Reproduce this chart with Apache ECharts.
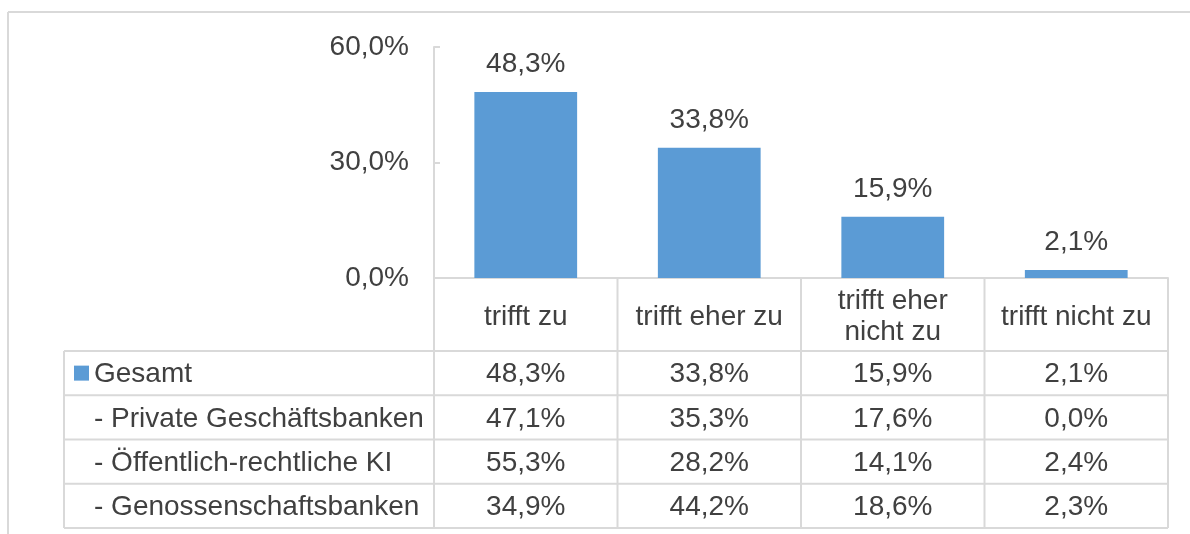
<!DOCTYPE html>
<html>
<head>
<meta charset="utf-8">
<script src="https://cdn.jsdelivr.net/npm/echarts@6/dist/echarts.min.js"></script>
<style>
  html, body { margin: 0; padding: 0; background: #fff; }
  #main-chart { width: 1190px; height: 534px; }
</style>
</head>
<body>
<div id="main-chart"></div>
<script>
// answer categories (x axis / table header)
const categories = ['trifft zu', 'trifft eher zu', 'trifft eher\nnicht zu', 'trifft nicht zu'];
// table rows
const rowNames = ['Gesamt', '- Private Geschäftsbanken', '- Öffentlich-rechtliche KI', '- Genossenschaftsbanken'];
const gesamt = [48.3, 33.8, 15.9, 2.1];
const privat = [47.1, 35.3, 17.6, 0.0];
const oeffentlich = [55.3, 28.2, 14.1, 2.4];
const genossen = [34.9, 44.2, 18.6, 2.3];
const yTicks = [0, 30, 60];

const tableRows = [gesamt, privat, oeffentlich, genossen];

const FONT = '"Liberation Sans", Arial, sans-serif';
const TEXT = '#404040';
const GRID = '#d9d9d9';
const BLUE = '#5b9bd5';
const FS = 28;

const fmt = v => v.toFixed(1).replace('.', ',') + '%';

let myChart = echarts.init(document.getElementById('main-chart'));

myChart.setOption({
  animation: false,
  grid: { left: 434, right: 22, top: 47, bottom: 256 },
  xAxis: {
    type: 'category',
    data: categories,
    axisLine: { lineStyle: { color: GRID, width: 2 } },
    axisTick: { show: false },
    axisLabel: {
      interval: 0, color: TEXT, fontSize: FS, fontFamily: FONT,
      margin: 39, verticalAlign: 'middle', lineHeight: 31
    }
  },
  yAxis: {
    type: 'value',
    min: yTicks[0], max: yTicks[yTicks.length - 1], interval: yTicks[1] - yTicks[0],
    axisLine: { show: true, lineStyle: { color: GRID, width: 2 } },
    axisTick: { show: true, inside: true, length: 6, lineStyle: { color: GRID, width: 2 } },
    splitLine: { show: false },
    axisLabel: {
      formatter: v => fmt(v), color: TEXT, fontSize: FS, fontFamily: FONT, margin: 25,
      padding: [4, 0, 0, 0]
    }
  },
  series: [{
    type: 'bar',
    name: 'Gesamt',
    data: gesamt,
    barWidth: '56%',
    itemStyle: { color: BLUE },
    label: {
      show: true, position: 'top', distance: 14,
      formatter: p => fmt(p.value), color: TEXT, fontSize: FS, fontFamily: FONT
    }
  }]
});

// data table below the plot, columns taken from the category axis
function buildTable() {
  const centers = categories.map((c, i) => myChart.convertToPixel({ xAxisIndex: 0 }, i));
  const band = centers[1] - centers[0];
  const xLeft = centers[0] - band / 2;
  const xRight = centers[centers.length - 1] + band / 2;
  const yBase = myChart.convertToPixel({ yAxisIndex: 0 }, 0);
  const headerH = 73, rowH = 44.25, labelLeft = 64;
  const tableTop = yBase + headerH;
  const tableBottom = tableTop + rowH * rowNames.length;

  const line = (x1, y1, x2, y2) => ({
    type: 'line', silent: true,
    shape: { x1, y1, x2, y2 },
    style: { stroke: GRID, lineWidth: 2 }
  });
  const text = (t, x, y, align) => ({
    type: 'text', silent: true, x, y,
    style: { text: t, fill: TEXT, fontSize: FS, fontFamily: FONT, align: align, verticalAlign: 'middle' }
  });

  const g = [];
  // outer chart frame
  g.push(line(8, 12, 1190, 12));
  g.push(line(8, 12, 8, 534));
  // column borders
  for (let i = 0; i <= categories.length; i++) {
    const x = xLeft + band * i;
    g.push(line(x, yBase, x, tableBottom));
  }
  g.push(line(labelLeft, tableTop, labelLeft, tableBottom));
  // row borders
  for (let r = 0; r <= rowNames.length; r++) {
    const y = tableTop + rowH * r;
    g.push(line(labelLeft, y, xRight, y));
  }
  // rows
  rowNames.forEach((name, r) => {
    const yc = tableTop + rowH * (r + 0.5) + 1.5;
    g.push(text(name, 94, yc, 'left'));
    tableRows[r].forEach((v, i) => g.push(text(fmt(v), centers[i], yc, 'center')));
  });
  // legend key for the Gesamt row
  g.push({
    type: 'rect', silent: true,
    shape: { x: 74, y: tableTop + rowH / 2 - 7.5, width: 15, height: 15 },
    style: { fill: BLUE }
  });
  myChart.setOption({ graphic: g });
}
buildTable();
</script>
</body>
</html>
